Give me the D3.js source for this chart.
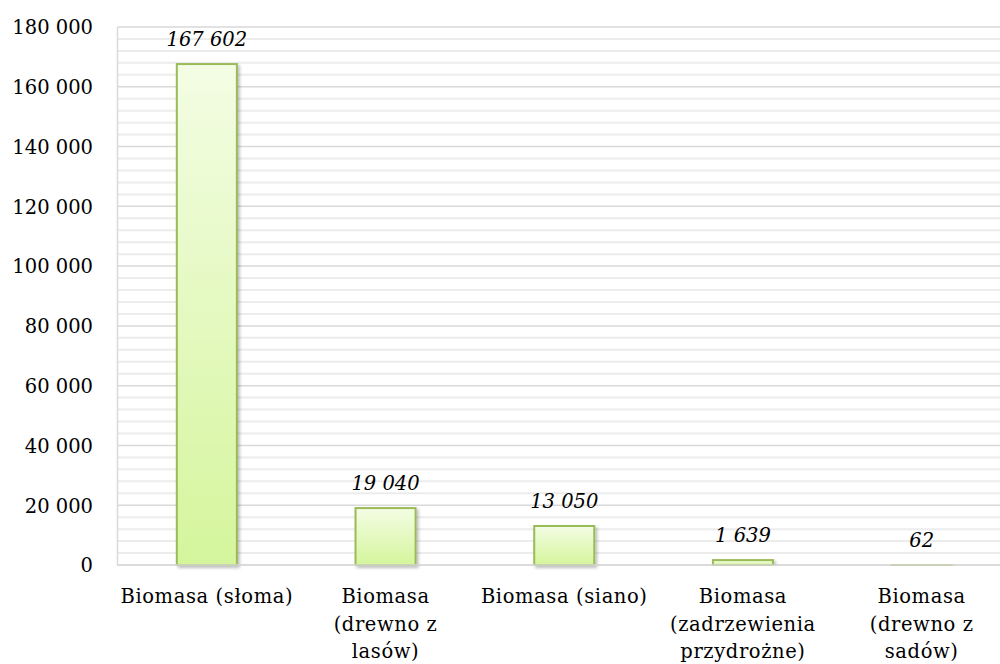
<!DOCTYPE html>
<html><head><meta charset="utf-8">
<script src="https://cdn.jsdelivr.net/npm/d3@7"></script>
<style>body{margin:0;background:#fff;} svg{display:block;}</style>
</head><body>
<svg id="c" width="1000" height="664"></svg>
<script>
const categories = [
  ["Biomasa (słoma)"],
  ["Biomasa", "(drewno z", "lasów)"],
  ["Biomasa (siano)"],
  ["Biomasa", "(zadrzewienia", "przydrożne)"],
  ["Biomasa", "(drewno z", "sadów)"]
];
const values = [167602, 19040, 13050, 1639, 62];
const yTicks = [0, 20000, 40000, 60000, 80000, 100000, 120000, 140000, 160000, 180000];

(function () {
const svg = d3.select("#c");
const pL = 117.5, pR = 1011, pT = 27, pB = 565;
const fmt = v => d3.format(",")(v).replace(/,/g, " ");
const x = d3.scaleBand().domain(d3.range(values.length)).range([pL, pR]).paddingInner(0.664).paddingOuter(0.332);
const y = d3.scaleLinear().domain([0, 180000]).range([pB, pT]);

const defs = svg.append("defs");
const g = defs.append("linearGradient").attr("id","bg").attr("x1",0).attr("y1",0).attr("x2",0).attr("y2",1);
g.append("stop").attr("offset","0%").attr("stop-color","#f3fde4");
g.append("stop").attr("offset","100%").attr("stop-color","#d5f59c");
const f = defs.append("filter").attr("id","sh").attr("x","-20%").attr("y","-20%").attr("width","140%").attr("height","140%");
f.append("feDropShadow").attr("dx",2).attr("dy",2).attr("stdDeviation",1.5).attr("flood-color","#000").attr("flood-opacity",0.25);

const minor = d3.range(0, 180001, 4000).filter(v => v % 20000 !== 0);
svg.append("g").selectAll("line").data(minor).join("line")
  .attr("x1", pL).attr("x2", 1000).attr("y1", d => y(d)).attr("y2", d => y(d))
  .attr("stroke", "#ececec").attr("stroke-width", 2);
svg.append("g").selectAll("line").data(yTicks).join("line")
  .attr("x1", pL).attr("x2", 1000).attr("y1", d => y(d)).attr("y2", d => y(d))
  .attr("stroke", "#d9d9d9").attr("stroke-width", 1.5);
svg.append("line").attr("x1", pL).attr("x2", pL).attr("y1", pT).attr("y2", pB + 0.5)
  .attr("stroke", "#d9d9d9").attr("stroke-width", 1.5);

const yAxis = d3.axisLeft(y).tickValues(yTicks).tickFormat(fmt).tickSize(0).tickPadding(0);
const ya = svg.append("g").attr("transform", "translate(93,0)").call(yAxis);
ya.select(".domain").remove();
ya.selectAll("text").attr("font-family", "DejaVu Serif").attr("font-size", 19.5).attr("fill", "#000").attr("dy", "0.35em");

svg.append("g").selectAll("rect").data(values).join("rect")
  .attr("x", (d, i) => x(i)).attr("width", x.bandwidth())
  .attr("y", d => y(d)).attr("height", d => Math.max(0, pB - y(d)))
  .attr("fill", "url(#bg)").attr("stroke", "#9bbb59").attr("stroke-width", 2)
  .attr("filter", "url(#sh)");

svg.append("line").attr("x1", pL).attr("x2", 1000).attr("y1", pB).attr("y2", pB)
  .attr("stroke", "#d9d9d9").attr("stroke-width", 1.5);

svg.append("g").selectAll("text").data(values).join("text")
  .attr("x", (d, i) => x(i) + x.bandwidth() / 2).attr("y", d => y(d) - 18)
  .attr("text-anchor", "middle").attr("font-family", "DejaVu Serif").attr("font-style", "italic")
  .attr("font-size", 19.5).attr("fill", "#000").text(fmt);

const cl = svg.append("g").selectAll("text").data(categories).join("text")
  .attr("x", (d, i) => x(i) + x.bandwidth() / 2).attr("y", 603)
  .attr("text-anchor", "middle").attr("font-family", "DejaVu Serif").attr("font-size", 19.5)
  .attr("letter-spacing", 0.6).attr("fill", "#000");
cl.each(function(d, i) {
  const t = d3.select(this);
  d.forEach((line, j) => t.append("tspan").attr("x", x(i) + x.bandwidth() / 2).attr("dy", j === 0 ? 0 : 27.5).text(line));
});
})();
</script>
</body></html>
